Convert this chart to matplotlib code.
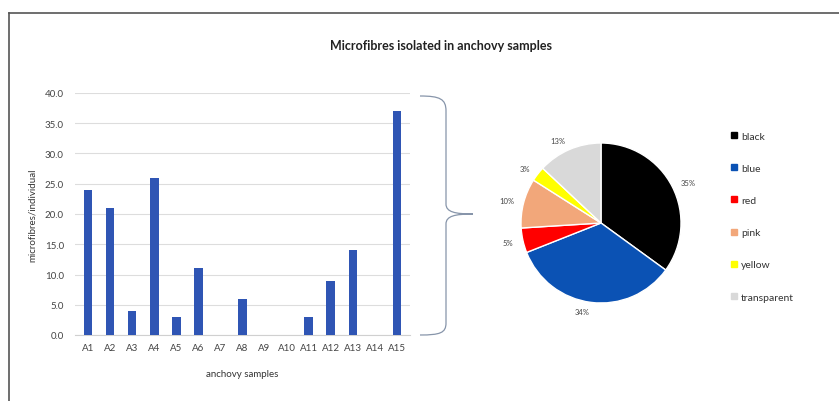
import matplotlib
matplotlib.use("Agg")
import matplotlib.pyplot as plt
from matplotlib.path import Path
from matplotlib.patches import PathPatch
from matplotlib.lines import Line2D

plt.rcParams['font.family'] = ['Lato', 'DejaVu Sans']

# --- datos ---
muestras = ["A1", "A2", "A3", "A4", "A5", "A6", "A7", "A8", "A9", "A10",
            "A11", "A12", "A13", "A14", "A15"]
fibras = [24, 21, 4, 26, 3, 11, 0, 6, 0, 0, 3, 9, 14, 0, 37]

colores_nombre = ["black", "blue", "red", "pink", "yellow", "transparent"]
porcentajes = [35, 34, 5, 10, 3, 13]
colores_pie = ["#000000", "#0B52B4", "#FF0000", "#F2A77A", "#FFFF00", "#D9D9D9"]

W, H = 839, 402
fig = plt.figure(figsize=(W / 100, H / 100), dpi=100)

def fx(px): return px / W
def fy(py): return 1 - py / H

# marco de la figura (arriba e izquierda)
fig.add_artist(Line2D([fx(9), 1], [fy(14), fy(14)], color="#555555", lw=1.2))
fig.add_artist(Line2D([fx(9), fx(9)], [fy(14), 0], color="#555555", lw=1.2))

fig.text(fx(441), fy(46), "Microfibres isolated in anchovy samples",
         ha="center", va="center", fontsize=9, fontweight="bold", color="#222222")

# --- barras ---
ax = fig.add_axes([fx(75), fy(336), fx(410) - fx(75), fy(94) - fy(336)])
x = range(len(muestras))
ax.bar(x, fibras, width=0.38, color="#2F55B4", zorder=3)
ax.set_ylim(0, 40)
ax.set_xlim(-0.6, len(muestras) - 0.4)
ax.set_yticks(range(0, 41, 5))
ax.set_yticklabels([f"{v:.1f}" for v in range(0, 41, 5)])
ax.set_xticks(list(x))
ax.set_xticklabels(muestras)
ax.tick_params(axis="both", length=0, labelsize=7, colors="#444444")
ax.tick_params(axis="x", pad=6)
ax.tick_params(axis="y", pad=8)
ax.grid(axis="y", color="#DDDDDD", lw=0.8, zorder=0)
for s in ["top", "right", "left"]:
    ax.spines[s].set_visible(False)
ax.spines["bottom"].set_color("#D0D0D0")
ax.set_xlabel("anchovy samples", fontsize=7, color="#333333", labelpad=12)
ax.set_ylabel("microfibres/individual", fontsize=7, color="#333333", labelpad=6)

# --- llave ---
verts = [(420, 97), (440, 97), (446, 100), (446, 112),
         (446, 205),
         (446, 213), (455, 215), (473, 215),
         (455, 215), (446, 217), (446, 225),
         (446, 324),
         (446, 334), (440, 336), (420, 336)]
codes = [Path.MOVETO, Path.CURVE4, Path.CURVE4, Path.CURVE4,
         Path.LINETO,
         Path.CURVE4, Path.CURVE4, Path.CURVE4,
         Path.CURVE4, Path.CURVE4, Path.CURVE4,
         Path.LINETO,
         Path.CURVE4, Path.CURVE4, Path.CURVE4]
verts = [(fx(a), fy(b)) for a, b in verts]
fig.add_artist(PathPatch(Path(verts, codes), fill=False, edgecolor="#8795AA",
                         lw=0.9, transform=fig.transFigure))

# --- pastel ---
cx, cy = 601, 224
axp = fig.add_axes([fx(cx - 100), fy(cy + 100), 200 / W, 200 / H])
wedges, textos = axp.pie(porcentajes, colors=colores_pie, startangle=90,
                         counterclock=False,
                         labels=[f"{p}%" for p in porcentajes],
                         labeldistance=1.12,
                         wedgeprops=dict(edgecolor="white", linewidth=1))
for t in textos:
    t.set_fontsize(5.5)
    t.set_color("#444444")
axp.set_xlim(-1.25, 1.25)
axp.set_ylim(-1.25, 1.25)
axp.set_aspect("equal")
axp.axis("off")

# leyenda
handles = [Line2D([], [], marker="s", ls="", color=c, markersize=4) for c in colores_pie]
fig.legend(handles, colores_nombre, loc="upper left",
           bbox_to_anchor=(fx(720), fy(123)), frameon=False,
           fontsize=7.5, labelspacing=2.2, handletextpad=0.3,
           handlelength=0.8, labelcolor="#333333")

fig.savefig("out.png", dpi=100, facecolor="white")
